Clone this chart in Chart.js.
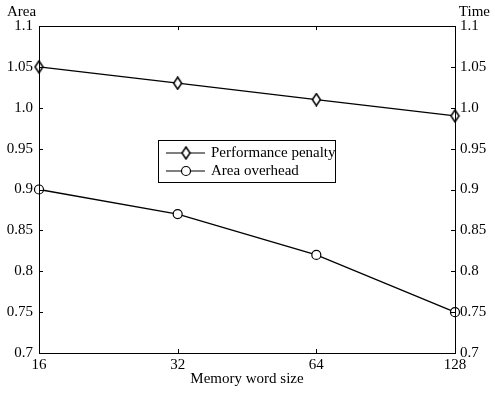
<!DOCTYPE html>
<html>
<head>
<meta charset="utf-8">
<script src="https://cdn.jsdelivr.net/npm/chart.js@4.4.0/dist/chart.umd.min.js"></script>
<style>
  html, body { margin: 0; padding: 0; background: #fff; }
</style>
</head>
<body>
<canvas id="chart" width="495" height="394"></canvas>
<script>
// data
const wordSizes = ['16', '32', '64', '128'];
const perfPenalty = [1.05, 1.03, 1.01, 0.99];
const areaOverhead = [0.90, 0.87, 0.82, 0.75];
const yTickLabels = ['0.7', '0.75', '0.8', '0.85', '0.9', '0.95', '1.0', '1.05', '1.1'];
const seriesNames = ['Performance penalty', 'Area overhead'];

Chart.defaults.font.family = '"Liberation Serif", "Times New Roman", serif';
Chart.defaults.font.size = 15;
Chart.defaults.color = '#000';

// tall open diamond like the matlab marker
function makeDiamond() {
    const c = document.createElement('canvas');
    c.width = 11; c.height = 14;
    const g = c.getContext('2d');
    g.lineWidth = 1.5;
    g.strokeStyle = '#000';
    g.fillStyle = '#fff';
    g.beginPath();
    g.moveTo(5.5, 1);
    g.lineTo(9.5, 7);
    g.lineTo(5.5, 13);
    g.lineTo(1.5, 7);
    g.closePath();
    g.fill();
    g.stroke();
    return c;
}
const diamond = makeDiamond();

function yLabel(value) {
    const i = Math.round((value - 0.7) / 0.05);
    return yTickLabels[i];
}

// box, inward ticks, corner titles, boxed legend
const matlabLook = {
    id: 'matlabLook',
    afterDraw(chart) {
        const ctx = chart.ctx;
        const a = chart.chartArea;
        const x = chart.scales.x;
        const y = chart.scales.y;
        ctx.save();
        ctx.strokeStyle = '#000';
        ctx.lineWidth = 1;
        ctx.strokeRect(Math.round(a.left) + 0.5, Math.round(a.top) + 0.5,
            Math.round(a.right - a.left), Math.round(a.bottom - a.top));

        ctx.beginPath();
        y.ticks.forEach(t => {
            const py = Math.round(y.getPixelForValue(t.value)) + 0.5;
            ctx.moveTo(a.left, py); ctx.lineTo(a.left + 4, py);
            ctx.moveTo(a.right, py); ctx.lineTo(a.right - 4, py);
        });
        wordSizes.forEach((w, i) => {
            const px = Math.round(x.getPixelForValue(i)) + 0.5;
            ctx.moveTo(px, a.bottom); ctx.lineTo(px, a.bottom - 4);
            ctx.moveTo(px, a.top); ctx.lineTo(px, a.top + 4);
        });
        ctx.stroke();

        ctx.fillStyle = '#000';
        ctx.font = '15px "Liberation Serif", serif';
        ctx.textBaseline = 'middle';
        ctx.textAlign = 'left';
        ctx.fillText('Area', 7, 12);
        ctx.textAlign = 'right';
        ctx.fillText('Time', 490, 12);

        // legend
        const lx = 158, ly = 140, lw = 177, lh = 42;
        ctx.fillStyle = '#fff';
        ctx.fillRect(lx, ly, lw, lh);
        ctx.strokeRect(lx + 0.5, ly + 0.5, lw, lh);
        const rows = [153, 171];
        chart.data.datasets.forEach((ds, i) => {
            const ry = rows[i];
            ctx.beginPath();
            ctx.lineWidth = 1.2;
            ctx.moveTo(166, ry); ctx.lineTo(205, ry);
            ctx.stroke();
            if (i === 0) {
                ctx.drawImage(diamond, 186 - 5.5, ry - 7);
            } else {
                ctx.beginPath();
                ctx.fillStyle = '#fff';
                ctx.arc(186, ry, 4.5, 0, Math.PI * 2);
                ctx.fill();
                ctx.stroke();
            }
            ctx.fillStyle = '#000';
            ctx.textAlign = 'left';
            ctx.fillText(ds.label, 211, ry);
        });
        ctx.restore();
    }
};

const ctx = document.getElementById('chart').getContext('2d');
new Chart(ctx, {
    type: 'line',
    data: {
        labels: wordSizes,
        datasets: [{
            label: seriesNames[0],
            data: perfPenalty,
            borderColor: '#000',
            borderWidth: 1.3,
            pointStyle: diamond,
            pointRadius: 5,
            yAxisID: 'y',
            clip: false
        }, {
            label: seriesNames[1],
            data: areaOverhead,
            borderColor: '#000',
            backgroundColor: '#fff',
            borderWidth: 1.3,
            pointStyle: 'circle',
            pointRadius: 4.5,
            pointBorderWidth: 1.2,
            pointBackgroundColor: '#fff',
            yAxisID: 'y',
            clip: false
        }]
    },
    options: {
        responsive: false,
        animation: false,
        layout: { padding: { top: 26, right: 0, left: 0, bottom: 0 } },
        plugins: {
            legend: { display: false },
            tooltip: { enabled: false }
        },
        scales: {
            x: {
                offset: false,
                grid: { display: false, drawTicks: false },
                border: { display: false },
                ticks: { padding: 3, maxRotation: 0, autoSkip: false },
                title: { display: true, text: 'Memory word size', padding: { top: 0, bottom: 6 } },
                afterFit: s => { s.height = 41; }
            },
            y: {
                position: 'left',
                min: 0.7, max: 1.1,
                grid: { display: false, drawTicks: false },
                border: { display: false },
                ticks: { stepSize: 0.05, padding: 6, autoSkip: false, callback: v => yLabel(v) },
                afterFit: s => { s.width = 39; }
            },
            y1: {
                position: 'right',
                min: 0.7, max: 1.1,
                grid: { display: false, drawTicks: false },
                border: { display: false },
                ticks: { stepSize: 0.05, padding: 5, autoSkip: false, callback: v => yLabel(v) },
                afterFit: s => { s.width = 40; }
            }
        }
    },
    plugins: [matlabLook]
});
</script>
</body>
</html>
